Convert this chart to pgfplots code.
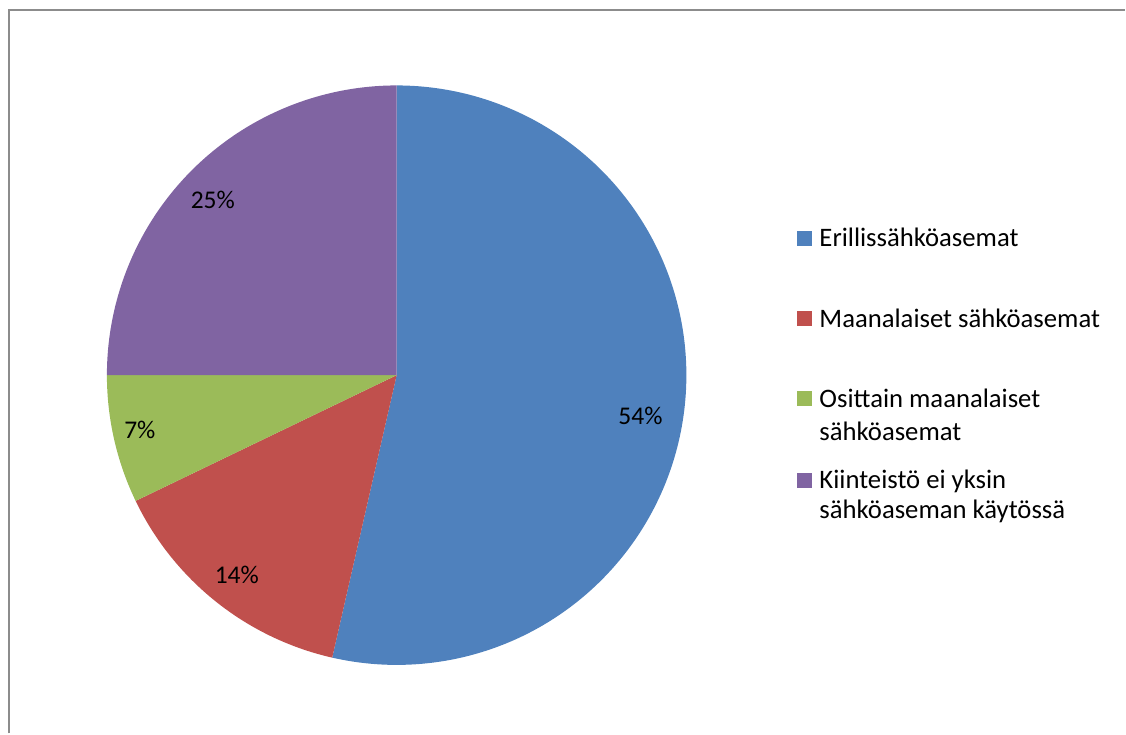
\documentclass[border=0pt]{standalone}
\usepackage{pgfplots}
\pgfplotsset{compat=1.18}
\usepackage{fontspec}
\setmainfont{Carlito}
\definecolor{cblue}{HTML}{4F81BD}
\definecolor{cred}{HTML}{C0504D}
\definecolor{cgreen}{HTML}{9BBB59}
\definecolor{cpurple}{HTML}{8064A2}
\definecolor{frame}{HTML}{8C8C8C}
% data: counts per category
\def\vA{15}% Erillissähköasemat
\def\vB{4}%  Maanalaiset sähköasemat
\def\vC{2}%  Osittain maanalaiset sähköasemat
\def\vD{7}%  Kiinteistö ei yksin sähköaseman käytössä
\tikzset{lbl/.style={font=\fontsize{25.5}{30}\selectfont,inner sep=0pt},
         leg/.style={font=\fontsize{26.7}{30}\selectfont,inner sep=0pt,anchor=base west}}
\begin{document}
\begin{tikzpicture}
\pgfmathsetmacro\tot{\vA+\vB+\vC+\vD}
\pgfmathsetmacro\aA{90}
\pgfmathsetmacro\aB{\aA-\vA/\tot*360}
\pgfmathsetmacro\aC{\aB-\vB/\tot*360}
\pgfmathsetmacro\aD{\aC-\vC/\tot*360}
\pgfmathsetmacro\aE{\aD-\vD/\tot*360}
\begin{axis}[at={(0,0)},anchor=south west,
  width=1126pt,height=734pt,scale only axis,
  xmin=0,xmax=1126,ymin=0,ymax=734,y dir=reverse,
  hide axis,clip=false]
\path (axis cs:0,0) rectangle (axis cs:1126,734);
\draw[frame,line width=2pt] (axis cs:9,734) -- (axis cs:9,10.5) -- (axis cs:1126,10.5);
\addplot[draw=none,fill=cblue,domain=\aB:\aA,samples=180] ({397+290*cos(x)},{375.5-290*sin(x)}) -- (axis cs:397,375.5) -- cycle;
\addplot[draw=none,fill=cred,domain=\aC:\aB,samples=60] ({397+290*cos(x)},{375.5-290*sin(x)}) -- (axis cs:397,375.5) -- cycle;
\addplot[draw=none,fill=cgreen,domain=\aD:\aC,samples=40] ({397+290*cos(x)},{375.5-290*sin(x)}) -- (axis cs:397,375.5) -- cycle;
\addplot[draw=none,fill=cpurple,domain=\aE:\aD,samples=90] ({397+290*cos(x)},{375.5-290*sin(x)}) -- (axis cs:397,375.5) -- cycle;
% data labels
\node[lbl,anchor=base] at (axis cs:641,425) {54\%};
\node[lbl,anchor=base] at (axis cs:237,584) {14\%};
\node[lbl,anchor=base] at (axis cs:140,439) {7\%};
\node[lbl,anchor=base] at (axis cs:213,209) {25\%};
% legend
\fill[cblue] (axis cs:798,231) rectangle (axis cs:813,246);
\fill[cred] (axis cs:798,311.7) rectangle (axis cs:813,326.7);
\fill[cgreen] (axis cs:798,391.7) rectangle (axis cs:813,406.7);
\fill[cpurple] (axis cs:798,473) rectangle (axis cs:813,488);
\node[leg] at (axis cs:820,247) {Erillissähköasemat};
\node[leg] at (axis cs:820,327.5) {Maanalaiset sähköasemat};
\node[leg] at (axis cs:820,407.5) {Osittain maanalaiset};
\node[leg] at (axis cs:820,441) {sähköasemat};
\node[leg] at (axis cs:820,488.5) {Kiinteistö ei yksin};
\node[leg] at (axis cs:820,519) {sähköaseman käytössä};
\end{axis}
\end{tikzpicture}
\end{document}
